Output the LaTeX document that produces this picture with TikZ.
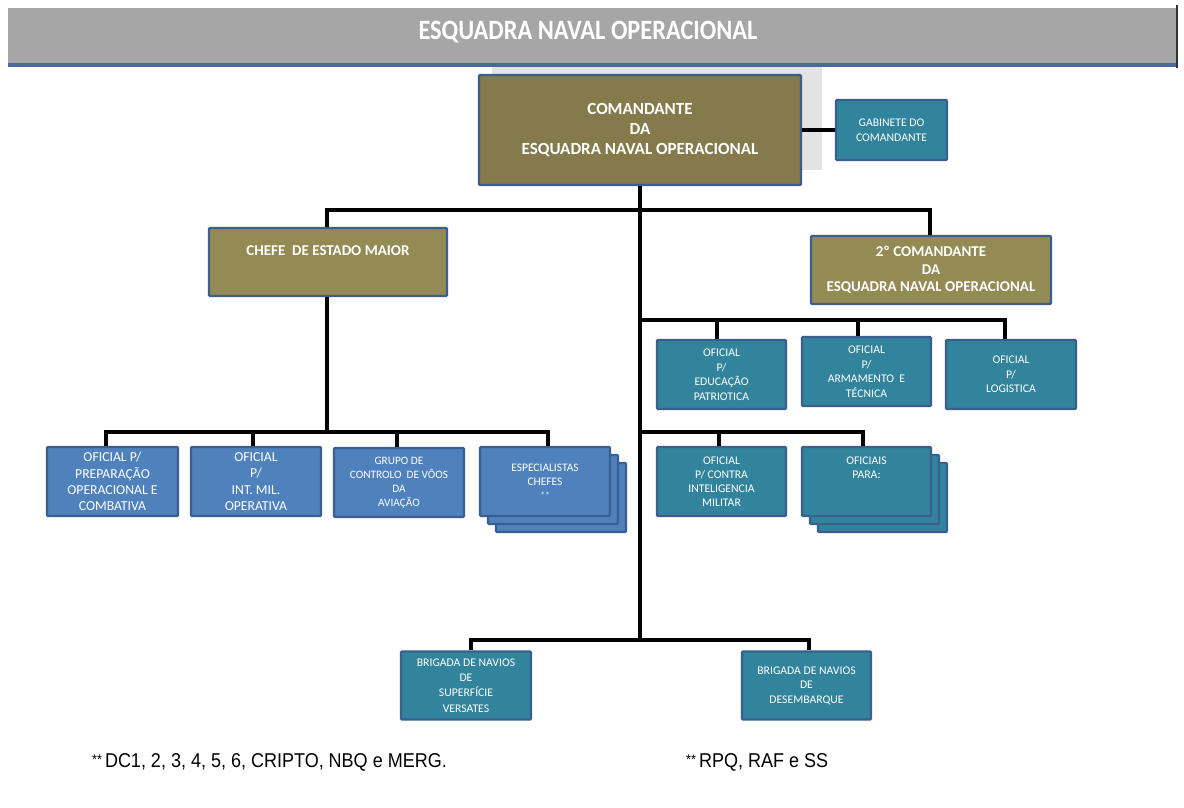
\documentclass[tikz,border=0pt]{standalone}
\usepackage{fontspec}
\setmainfont{Carlito}
\newfontfamily\narrowfont[FakeStretch=0.9]{Liberation Sans}
\newfontfamily\titlefont[FakeStretch=0.87]{Carlito}
\usetikzlibrary{shadows}
\definecolor{hdrgray}{HTML}{A6A6A6}
\definecolor{hdrline}{HTML}{4A6A9C}
\definecolor{olivemain}{HTML}{857A4C}
\definecolor{olivebox}{HTML}{948A54}
\definecolor{tealbox}{HTML}{31849B}
\definecolor{bluebox}{HTML}{4F81BD}
\definecolor{bordercol}{HTML}{3A5F8F}
\definecolor{shadowgray}{HTML}{E3E3E3}
\begin{document}
\begin{tikzpicture}[x=1pt,y=-1pt,
  box/.style={draw=bordercol, line width=2.4pt, rounded corners=1pt, text=white, align=center, inner sep=0pt},
  bigtext/.style={font=\fontsize{17}{20}\selectfont\bfseries},
  midtext/.style={font=\fontsize{15}{17.5}\selectfont\bfseries},
  smalltext/.style={font=\fontsize{11.7}{15}\selectfont},
  oliveA/.style={box, fill=olivemain, bigtext},
  oliveB/.style={box, fill=olivebox, midtext},
  teal/.style={box, fill=tealbox, smalltext},
  blue/.style={box, fill=bluebox, smalltext},
  stackteal/.style={teal, copy shadow={shadow xshift=16pt, shadow yshift=-16pt, fill=tealbox, draw=bordercol, line width=2.4pt}, copy shadow={shadow xshift=8pt, shadow yshift=-8pt, fill=tealbox, draw=bordercol, line width=2.4pt}},
  stackblue/.style={blue, copy shadow={shadow xshift=16pt, shadow yshift=-16pt, fill=bluebox, draw=bordercol, line width=2.4pt}, copy shadow={shadow xshift=8pt, shadow yshift=-8pt, fill=bluebox, draw=bordercol, line width=2.4pt}},
  conn/.style={draw=black, line width=4pt, line join=miter},
  foot/.style={font=\narrowfont\fontsize{20}{22}\selectfont, anchor=west, inner sep=0pt}
]
\useasboundingbox (0,0) rectangle (1184,807);
\fill[white] (0,0) rectangle (1184,807);
% header
\fill[hdrgray] (8,8) rectangle (1176,63);
\fill[hdrline] (8,63) rectangle (1176,67);
\draw[line width=2pt, black!80] (1177,5) -- (1177,68);
\node[text=white, font=\titlefont\fontsize{28}{30}\selectfont\bfseries, inner sep=0pt] (title) at (588,32) {ESQUADRA NAVAL OPERACIONAL};
% shadow behind main box
\fill[shadowgray] (492,67) rectangle (822,170);
% boxes
\node[oliveA, minimum width=322pt, minimum height=110pt] (main) at (640,130) {COMANDANTE\\DA\\ESQUADRA NAVAL OPERACIONAL};
\node[teal, minimum width=111pt, minimum height=60pt] (gab) at (891.5,130) {GABINETE DO\\COMANDANTE};
\node[oliveB, minimum width=238pt, minimum height=68pt,
      label={[midtext, text=white, anchor=center, yshift=-24pt]north:CHEFE\ \ DE ESTADO MAIOR}] (chefe) at (328,262) {};
\node[oliveB, minimum width=240pt, minimum height=68pt] (cmd2) at (931,270) {2º COMANDANTE\\DA\\ESQUADRA NAVAL OPERACIONAL};
\node[teal, minimum width=129pt, minimum height=69pt, font=\fontsize{11.7}{14.5}\selectfont] (educ) at (721.5,374.5) {OFICIAL\\P/\\EDUCAÇÃO\\PATRIOTICA};
\node[teal, minimum width=129pt, minimum height=69pt, font=\fontsize{11.7}{14.5}\selectfont] (arm) at (866.5,371.5) {OFICIAL\\P/\\ARMAMENTO\ \ E\\TÉCNICA};
\node[teal, minimum width=130pt, minimum height=69pt, font=\fontsize{11.7}{14.5}\selectfont] (log) at (1011,374.5) {OFICIAL\\P/\\LOGISTICA};
\node[blue, minimum width=131pt, minimum height=69pt, font=\fontsize{13.7}{16.3}\selectfont] (prep) at (112.5,481.5) {OFICIAL P/\\PREPARAÇÃO\\OPERACIONAL E\\COMBATIVA};
\node[blue, minimum width=130pt, minimum height=69pt, font=\fontsize{13.7}{16.3}\selectfont] (int) at (256,481.5) {OFICIAL\\P/\\INT. MIL.\\OPERATIVA};
\node[blue, minimum width=130pt, minimum height=69pt, font=\fontsize{11.3}{14}\selectfont] (grupo) at (399,482.5) {GRUPO DE\\CONTROLO\ \ DE VÔOS\\DA\\AVIAÇÃO};
\node[stackblue, minimum width=130pt, minimum height=69pt, font=\fontsize{11.5}{13.5}\selectfont] (esp) at (545,481.5) {ESPECIALISTAS\\CHEFES\\{\fontsize{9}{10}\selectfont **}};
\node[teal, minimum width=129pt, minimum height=69pt, font=\fontsize{11.7}{14}\selectfont] (contra) at (721.5,481.5) {OFICIAL\\P/ CONTRA\\INTELIGENCIA\\MILITAR};
\node[stackteal, minimum width=129pt, minimum height=69pt, font=\fontsize{11.7}{14}\selectfont] (ofpara) at (866.5,481.5) {OFICIAIS\\PARA:\\[14pt]};
\node[teal, minimum width=130pt, minimum height=68pt, font=\fontsize{11.7}{15.3}\selectfont] (brig1) at (466,685.5) {BRIGADA DE NAVIOS\\DE\\SUPERFÍCIE\\VERSATES};
\node[teal, minimum width=129pt, minimum height=68pt, font=\fontsize{11.7}{14.5}\selectfont] (brig2) at (806.5,685.5) {BRIGADA DE NAVIOS\\DE\\DESEMBARQUE};
% junctions
\coordinate (j1) at (640,210);
\coordinate (j2) at (640,320);
\coordinate (j3) at (327,432);
\coordinate (j4) at (640,432);
\coordinate (bot) at (640,640);
% connectors
\draw[conn] (main.east) -- (gab.west);
\draw[conn] (main.south) -- (bot);
\draw[conn] ([xshift=-1pt]chefe.north) |- (j1) -| ([xshift=-1pt]cmd2.north);
\draw[conn] ([xshift=-1pt]chefe.south) -- (j3);
\draw[conn] ([xshift=-7pt]prep.north) |- (j3) -| ([xshift=3pt]esp.north);
\draw[conn] ([xshift=-3pt]int.north) -- ([xshift=-3pt]int.north |- j3);
\draw[conn] ([xshift=-2pt]grupo.north) -- ([xshift=-2pt]grupo.north |- j3);
\draw[conn] (j2) -| ([xshift=-5pt]educ.north);
\draw[conn] (j2) -| ([xshift=-9pt]arm.north);
\draw[conn] (j2) -| ([xshift=-6pt]log.north);
\draw[conn] (j4) -| ([xshift=-3pt]contra.north);
\draw[conn] (j4) -| ([xshift=-4pt]ofpara.north);
\draw[conn] ([xshift=5pt]brig1.north) |- (bot) -| ([xshift=2pt]brig2.north);
% footnotes
\node[foot] (f1) at (92,762) {\raisebox{3pt}{\fontsize{14}{16}\selectfont **}\hspace{3pt}DC1, 2, 3, 4, 5, 6, CRIPTO, NBQ e MERG.};
\node[foot] (f2) at (686,762) {\raisebox{3pt}{\fontsize{14}{16}\selectfont **}\hspace{3pt}RPQ, RAF e SS};
\end{tikzpicture}
\end{document}
